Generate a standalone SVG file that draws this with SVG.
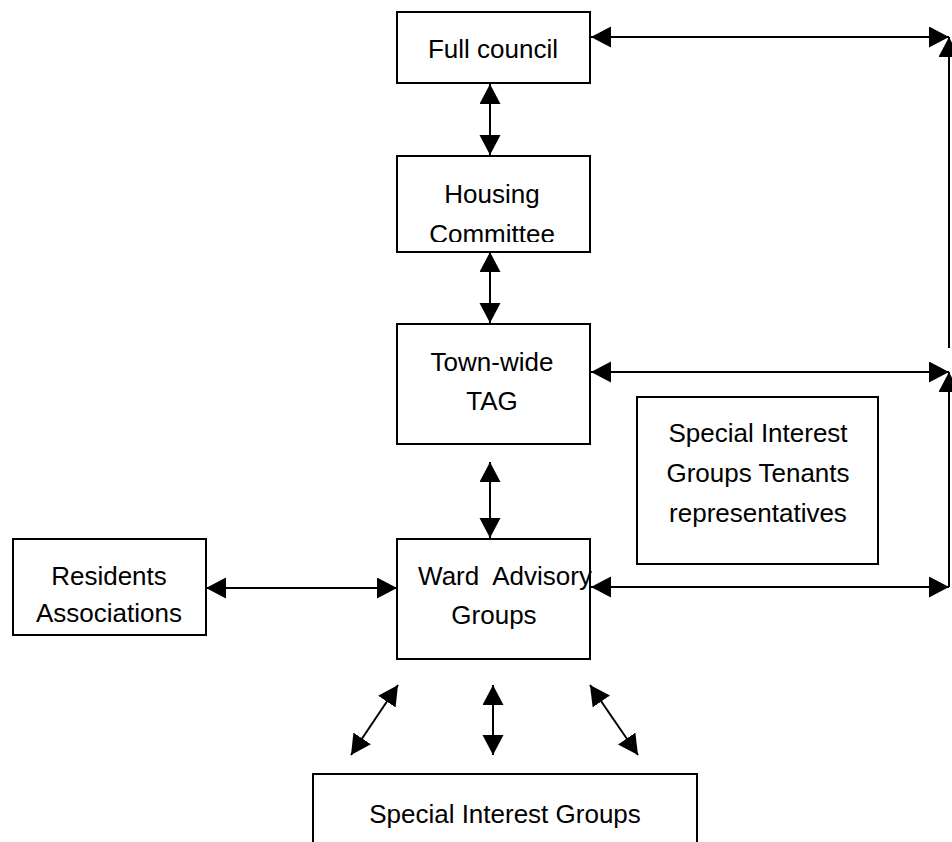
<svg xmlns="http://www.w3.org/2000/svg" width="952" height="842" viewBox="0 0 952 842">
<style>
.box{fill:#fff;stroke:#000;stroke-width:2}
.t{font-family:"Liberation Sans",Arial,sans-serif;font-size:26px;fill:#000;text-anchor:middle}
.c{stroke:#000;stroke-width:2;fill:none}
.both{marker-start:url(#ah);marker-end:url(#ah)}
.end{marker-end:url(#ah)}
</style>
<defs>
<marker id="ah" markerUnits="userSpaceOnUse" markerWidth="22" markerHeight="22" refX="20" refY="10.5" orient="auto-start-reverse" viewBox="0 0 22 22">
<path d="M0,0 L20,10.5 L0,21 Z" fill="#000"/>
</marker>
<clipPath id="hc"><rect x="397" y="155" width="194" height="87"/></clipPath>
</defs>
<rect width="952" height="842" fill="#fff"/>
<g id="connectors">
<line class="c both" x1="591" y1="37" x2="949" y2="37"/>
<line class="c end" x1="949" y1="348" x2="949" y2="37"/>
<line class="c both" x1="490" y1="84" x2="490" y2="155"/>
<line class="c both" x1="490" y1="252" x2="490" y2="323"/>
<line class="c both" x1="591" y1="372" x2="949" y2="372"/>
<line class="c end" x1="949" y1="587" x2="949" y2="372"/>
<line class="c both" x1="490" y1="462" x2="490" y2="538"/>
<line class="c both" x1="206" y1="588" x2="397" y2="588"/>
<line class="c both" x1="591" y1="587" x2="949" y2="587"/>
<line class="c both" x1="398" y1="685" x2="351" y2="755"/>
<line class="c both" x1="493" y1="685" x2="493" y2="755"/>
<line class="c both" x1="590" y1="685" x2="638" y2="755"/>
</g>
<g id="full-council">
<rect class="box" x="397" y="12" width="193" height="71"/>
<text class="t" x="493" y="58">Full council</text>
</g>
<g id="housing-committee">
<rect class="box" x="397" y="156" width="193" height="96"/>
<g clip-path="url(#hc)">
<text class="t" x="492" y="203">Housing</text>
<text class="t" x="492" y="243">Committee</text>
</g>
</g>
<g id="town-wide-tag">
<rect class="box" x="397" y="324" width="193" height="120"/>
<text class="t" x="492" y="371">Town-wide</text>
<text class="t" x="492" y="410">TAG</text>
</g>
<g id="special-interest-tenants">
<rect class="box" x="637" y="397" width="241" height="167"/>
<text class="t" x="758" y="442">Special Interest</text>
<text class="t" x="758" y="482">Groups Tenants</text>
<text class="t" x="758" y="522">representatives</text>
</g>
<g id="residents-associations">
<rect class="box" x="13" y="539" width="193" height="96"/>
<text class="t" x="109" y="585">Residents</text>
<text class="t" x="109" y="622">Associations</text>
</g>
<g id="ward-advisory-groups">
<rect class="box" x="397" y="539" width="193" height="120"/>
<text class="t" x="505" y="585" xml:space="preserve">Ward  Advisory</text>
<text class="t" x="494" y="624">Groups</text>
</g>
<g id="special-interest-groups">
<rect class="box" x="313" y="774" width="384" height="80"/>
<text class="t" x="505" y="823">Special Interest Groups</text>
</g>
</svg>
